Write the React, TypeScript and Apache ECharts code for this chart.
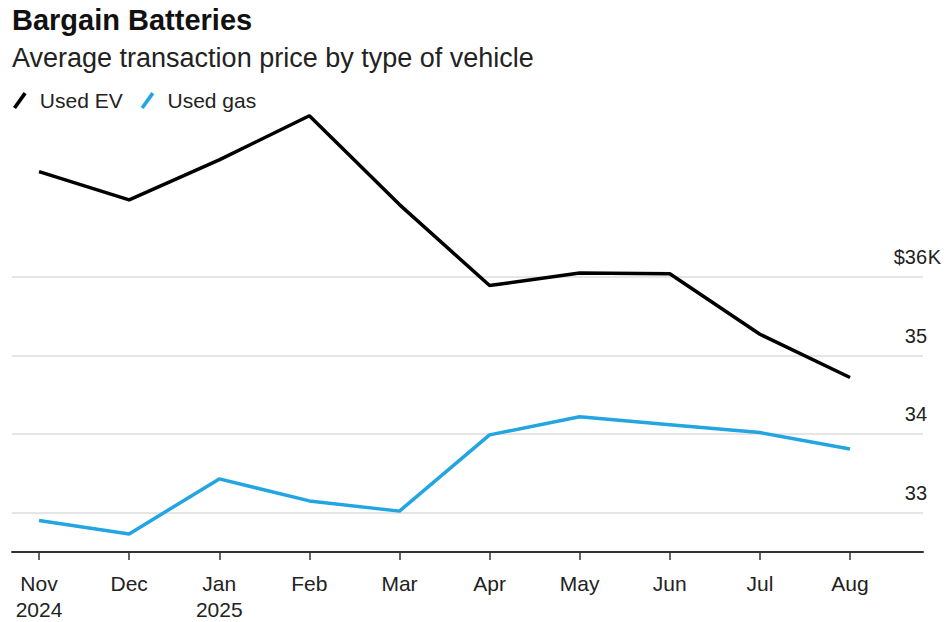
import React, { useEffect, useRef } from "react";
import * as echarts from "echarts";

const months = ["Nov", "Dec", "Jan", "Feb", "Mar", "Apr", "May", "Jun", "Jul", "Aug"];
const years = ["2024", "", "2025", "", "", "", "", "", "", ""];
const usedEV = [37.34, 36.98, 37.49, 38.05, 36.92, 35.89, 36.05, 36.04, 35.27, 34.72];
const usedGas = [32.9, 32.73, 33.43, 33.15, 33.02, 33.99, 34.22, 34.12, 34.02, 33.81];
const yTicks = [33, 34, 35, 36];

const FONT = '"Liberation Sans", Arial, Helvetica, sans-serif';

export default function App() {
  const ref = useRef<HTMLDivElement>(null);

  useEffect(() => {
    if (!ref.current) return;
    const chart = echarts.init(ref.current, undefined, { renderer: "svg" });
    const idx = months.map((_, i) => i);

    chart.setOption({
      animation: false,
      backgroundColor: "#ffffff",
      textStyle: { fontFamily: FONT },
      graphic: [
        {
          type: "text",
          x: 12,
          y: 20,
          style: {
            text: "Bargain Batteries",
            font: `bold 29px ${FONT}`,
            fill: "#111111",
            verticalAlign: "middle",
          },
        },
        {
          type: "text",
          x: 12,
          y: 58,
          style: {
            text: "Average transaction price by type of vehicle",
            font: `27px ${FONT}`,
            fill: "#222222",
            verticalAlign: "middle",
          },
        },
      ],
      legend: {
        left: 8,
        top: 85,
        itemWidth: 14,
        itemHeight: 17,
        itemGap: 18,
        icon: "path://M0.6,14.5 L10.6,0.5 L13.4,2.5 L3.4,16.5 Z",
        textStyle: {
          fontSize: 21,
          color: "#222222",
          fontFamily: FONT,
          padding: [0, 0, 0, 8],
        },
        data: ["Used EV", "Used gas"],
      },
      grid: {
        left: 12,
        right: 26,
        top: 104,
        bottom: 70,
        containLabel: false,
      },
      xAxis: {
        type: "value",
        min: -0.3,
        max: 9.81,
        axisLine: { show: true, lineStyle: { color: "#333333", width: 2 } },
        axisTick: {
          show: true,
          length: 8,
          lineStyle: { color: "#333333", width: 1.5 },
          customValues: idx,
        },
        splitLine: { show: false },
        axisLabel: {
          customValues: idx,
          margin: 18,
          fontSize: 21,
          lineHeight: 26,
          color: "#222222",
          fontFamily: FONT,
          formatter: (v: number) => {
            const i = Math.round(v);
            return years[i] ? `${months[i]}\n${years[i]}` : months[i];
          },
        },
      },
      yAxis: {
        type: "value",
        position: "right",
        min: 32.5,
        max: 38.2,
        axisLine: { show: false },
        axisTick: { show: false, customValues: yTicks },
        splitLine: { show: true, lineStyle: { color: "#dddddd", width: 1.5 } },
        axisLabel: {
          customValues: yTicks,
          inside: true,
          margin: -19,
          verticalAlign: "bottom",
          padding: [0, 0, 9, 0],
          formatter: (v: number) =>
            v === 36 ? `{n|$${v}}{k|K}` : `{n|${v}}{k| }`,
          rich: {
            n: { fontSize: 20, color: "#222222", fontFamily: FONT, lineHeight: 22 },
            k: { fontSize: 20, color: "#222222", fontFamily: FONT, lineHeight: 22, width: 15, align: "left" },
          },
        },
      },
      series: [
        {
          name: "Used EV",
          type: "line",
          data: usedEV.map((v, i) => [i, v]),
          showSymbol: false,
          symbol: "none",
          lineStyle: { color: "#000000", width: 3.5 },
          itemStyle: { color: "#000000" },
        },
        {
          name: "Used gas",
          type: "line",
          data: usedGas.map((v, i) => [i, v]),
          showSymbol: false,
          symbol: "none",
          lineStyle: { color: "#22a5e0", width: 3.5 },
          itemStyle: { color: "#22a5e0" },
        },
      ],
    });

    return () => chart.dispose();
  }, []);

  return (
    <div
      ref={ref}
      style={{ position: "fixed", left: 0, top: 0, width: 949, height: 622 }}
    />
  );
}
